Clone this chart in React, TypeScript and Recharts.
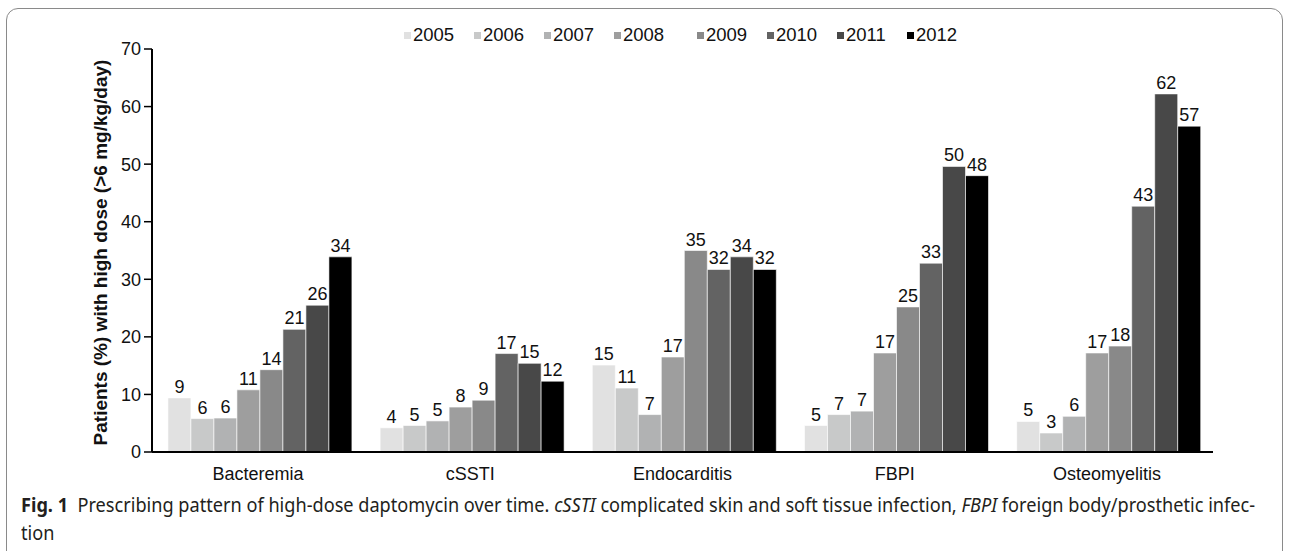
import React from "react";
import {
  BarChart,
  Bar,
  XAxis,
  YAxis,
  LabelList,
} from "recharts";

// categories and year series (percent of patients on high dose)
const categories = ["Bacteremia", "cSSTI", "Endocarditis", "FBPI", "Osteomyelitis"];
const years = ["2005", "2006", "2007", "2008", "2009", "2010", "2011", "2012"];

const v2005 = [9.4, 4.2, 15.1, 4.6, 5.3];
const v2006 = [5.8, 4.6, 11.1, 6.5, 3.3];
const v2007 = [5.9, 5.4, 6.5, 7.1, 6.2];
const v2008 = [10.8, 7.8, 16.5, 17.2, 17.2];
const v2009 = [14.3, 9.0, 35.0, 25.2, 18.4];
const v2010 = [21.3, 17.1, 31.7, 32.8, 42.7];
const v2011 = [25.5, 15.4, 33.9, 49.6, 62.2];
const v2012 = [33.9, 12.3, 31.7, 48.0, 56.6];

const yTicks = [0, 10, 20, 30, 40, 50, 60, 70];
const boundaryTicks = [0, 1, 2, 3, 4, 5];

const series = [v2005, v2006, v2007, v2008, v2009, v2010, v2011, v2012];
const colors = ["#e1e1e1", "#c8c9c9", "#b1b2b3", "#9e9e9e", "#898989", "#636363", "#484848", "#000000"];

const data = categories.map((c, i) => {
  const row: any = { category: c };
  years.forEach((y, k) => {
    row["y" + y] = series[k][i];
  });
  return row;
});

const FONT = "'Liberation Sans', Arial, sans-serif";

const YLabel = (props: any) => {
  const vb = props.viewBox;
  const cx = vb.x + 8;
  const cy = vb.y + vb.height / 2 + 2;
  return (
    <text
      x={cx}
      y={cy}
      transform={`rotate(-90, ${cx}, ${cy})`}
      textAnchor="middle"
      dominantBaseline="central"
      fontFamily={FONT}
      fontWeight="bold"
      fontSize={19}
      fill="#111"
    >
      Patients (%) with high dose (&gt;6 mg/kg/day)
    </text>
  );
};

// tick marks only, no text, for the category boundary axis
const NoTickText = () => <g />;

export default function App() {
  return (
    <div style={{ position: "absolute", left: 0, top: 0, width: 1290, height: 551, background: "#fff", overflow: "hidden" }}>
      {/* outer frame */}
      <div
        style={{
          position: "absolute",
          left: 6,
          top: 8,
          width: 1277,
          height: 600,
          border: "1px solid #8a8a8a",
          borderRadius: 12,
          boxSizing: "border-box",
        }}
      />

      {/* legend */}
      <div
        style={{
          position: "absolute",
          left: 404,
          top: 24,
          display: "flex",
          alignItems: "center",
          fontFamily: FONT,
          fontSize: 18.5,
          lineHeight: "22px",
          color: "#111",
          whiteSpace: "nowrap",
        }}
      >
        {years.map((y, k) => (
          <div key={y} style={{ display: "flex", alignItems: "center", width: k === 3 ? 83 : 70 }}>
            <span style={{ display: "inline-block", width: 7, height: 7, background: colors[k], marginRight: 2 }} />
            <span>{y}</span>
          </div>
        ))}
      </div>

      <div style={{ position: "absolute", left: 0, top: 0 }}>
        <BarChart
          width={1290}
          height={490}
          data={data}
          margin={{ top: 49, right: 77, left: 92, bottom: 8 }}
          barCategoryGap="7.5%"
          barGap={0}
        >
          <XAxis
            xAxisId="edge"
            type="number"
            domain={[0, 5]}
            ticks={boundaryTicks}
            allowDataOverflow
            height={0}
            tick={NoTickText}
            tickSize={7}
            tickLine={{ stroke: "#000", strokeWidth: 1.5 }}
            axisLine={false}
          />
          <XAxis
            xAxisId="cat"
            dataKey="category"
            height={30}
            tickLine={false}
            tickSize={0}
            tickMargin={15}
            axisLine={{ stroke: "#000", strokeWidth: 2 }}
            tick={{ fontFamily: FONT, fontSize: 18, fill: "#111" }}
            interval={0}
          />
          <YAxis
            width={60}
            domain={[0, 70]}
            ticks={yTicks}
            interval={0}
            tickSize={8}
            tickMargin={3}
            tickLine={{ stroke: "#000", strokeWidth: 1.5 }}
            axisLine={{ stroke: "#000", strokeWidth: 2 }}
            tick={{ fontFamily: FONT, fontSize: 18, fill: "#111" }}
            label={<YLabel />}
          />
          {years.map((y, k) => (
            <Bar
              key={y}
              xAxisId="cat"
              dataKey={"y" + y}
              fill={colors[k]}
              stroke="#ffffff"
              strokeWidth={0.6}
              isAnimationActive={false}
            >
              <LabelList
                dataKey={"y" + y}
                position="top"
                offset={5}
                formatter={(v: any) => Math.round(Number(v))}
                style={{ fontFamily: FONT, fontSize: 18, fill: "#111" }}
              />
            </Bar>
          ))}
        </BarChart>
      </div>

      {/* caption */}
      <div
        style={{
          position: "absolute",
          left: 21,
          top: 491,
          fontFamily: "'Noto Sans', sans-serif",
          fontSize: 19,
          lineHeight: "28px",
          color: "#231f20",
          whiteSpace: "nowrap",
          transform: "scaleX(0.955)",
          transformOrigin: "left top",
        }}
      >
        <div>
          <b>Fig. 1</b>&nbsp;&nbsp;Prescribing pattern of high-dose daptomycin over time. <i>cSSTI</i> complicated skin and soft tissue infection, <i>FBPI</i> foreign body/prosthetic infec-
        </div>
        <div>tion</div>
      </div>
    </div>
  );
}
